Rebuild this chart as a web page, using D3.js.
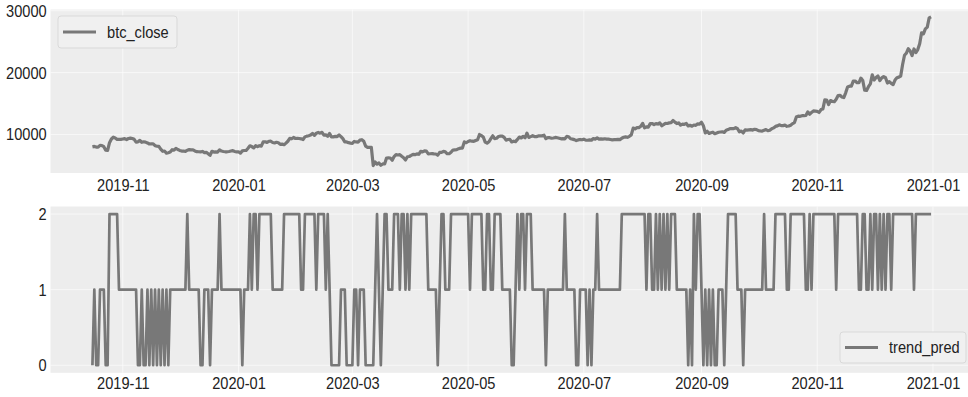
<!DOCTYPE html>
<html>
<head>
<meta charset="utf-8">
<script src="https://cdn.jsdelivr.net/npm/d3@7"></script>
<style>
  html, body { margin: 0; padding: 0; background: #ffffff; }
  svg { display: block; font-family: "Liberation Sans", Arial, sans-serif; }
</style>
</head>
<body>
<svg id="chart" width="968" height="397"></svg>
<script>
// ---- data -------------------------------------------------------------
// Daily series, first observation on this date, one value per day.
const startDate = "2019-10-16";

// BTC daily close (USD)
const btcClose = [
  // 2019-10 (16th onward)
  8000, 8070, 7960, 7950, 8230, 8210, 8020, 7470, 7420, 8670, 9260, 9550, 9430, 9210, 9200, 9200,
  // 2019-11
  9260, 9320, 9180, 9340, 9400, 9340, 9210, 8770, 8810, 9040, 8730, 8820, 8760, 8630, 8460,
  8490, 8500, 8180, 8120, 8080, 7630, 7280, 7320, 6980, 7050, 7150, 7530, 7460, 7760, 7570,
  // 2019-12
  7420, 7320, 7320, 7250, 7450, 7550, 7500, 7520, 7340, 7220, 7200, 7190, 7250, 7070, 7110, 6880,
  6620, 7280, 7150, 7190, 7150, 7510, 7320, 7250, 7200, 7200, 7250, 7320, 7390, 7250, 7190,
  // 2020-01
  7200, 6990, 7340, 7410, 7410, 7770, 8160, 8040, 7820, 8190, 8020, 8180, 8110, 8810, 8820, 8720,
  8900, 8910, 8700, 8630, 8740, 8660, 8390, 8440, 8340, 8600, 8900, 9360, 9300, 9510, 9350,
  // 2020-02
  9390, 9340, 9290, 9180, 9610, 9730, 9800, 9900, 10160, 9860, 10210, 10330, 10210, 10350, 9900,
  9930, 9700, 10160, 9600, 9610, 9690, 9660, 9920, 9650, 9320, 8780, 8790, 8670, 8600,
  // 2020-03
  8560, 8870, 8790, 8760, 9080, 9150, 8900, 8110, 7920, 7910, 7910, 4970, 5560, 5200, 5390, 5010,
  5230, 5240, 6190, 6200, 6190, 5830, 6420, 6730, 6680, 6730, 6470, 6240, 5880, 6390, 6440,
  // 2020-04
  6610, 6790, 6730, 6860, 6790, 7270, 7180, 7340, 7300, 6870, 6880, 6910, 6860, 6840, 6640,
  7120, 7100, 7260, 7190, 6880, 6880, 7120, 7480, 7510, 7540, 7700, 7790, 7800, 8800, 8660,
  // 2020-05
  8860, 8990, 8910, 8890, 9030, 9150, 9990, 9810, 9590, 8760, 8600, 8820, 9320, 9790, 9320, 9380,
  9670, 9730, 9730, 9520, 9080, 9180, 9210, 8790, 8910, 8840, 9200, 9580, 9430, 9700, 9460,
  // 2020-06
  10200, 9520, 9650, 9800, 9660, 9650, 9760, 9790, 9770, 9880, 9320, 9480, 9480, 9390, 9430,
  9520, 9460, 9390, 9290, 9330, 9290, 9680, 9630, 9300, 9250, 9160, 9010, 9120, 9190, 9140,
  // 2020-07
  9230, 9090, 9060, 9130, 9070, 9340, 9250, 9430, 9240, 9290, 9240, 9300, 9240, 9240, 9190, 9130,
  9150, 9170, 9210, 9160, 9390, 9540, 9600, 9540, 9700, 9930, 11030, 10910, 11100, 11110, 11320,
  // 2020-08
  11800, 11070, 11230, 11190, 11750, 11770, 11600, 11750, 11680, 11880, 11410, 11580, 11780, 11770, 11870, 11910,
  12250, 11990, 11760, 11870, 11500, 11660, 11640, 11770, 11370, 11490, 11330, 11530, 11480, 11710, 11680,
  // 2020-09
  11970, 11410, 10250, 10510, 10170, 10280, 10370, 10130, 10240, 10360, 10400, 10440, 10330, 10680, 10790,
  10950, 10950, 10940, 11090, 10920, 10420, 10540, 10240, 10740, 10690, 10730, 10770, 10710, 10840, 10780,
  // 2020-10
  10620, 10570, 10550, 10670, 10790, 10600, 10670, 10920, 11060, 11300, 11380, 11560, 11430, 11430, 11500, 11320,
  11370, 11500, 11750, 11920, 12820, 12970, 12930, 13030, 13030, 13070, 13650, 13270, 13560, 13800, 13780,
  // 2020-11
  13740, 13550, 14030, 14130, 15580, 15570, 14830, 15480, 15330, 15300, 15700, 16280, 16320, 16070, 15960,
  16730, 17680, 17800, 17820, 18620, 18640, 18370, 18360, 19110, 18730, 17150, 17110, 17720, 18180, 19630,
  // 2020-12
  18800, 19200, 19450, 18700, 19150, 19360, 19170, 18320, 18550, 18260, 18060, 18800, 19170, 19270, 19440, 21310,
  22810, 23140, 23870, 23480, 22750, 23820, 23240, 23730, 24660, 26440, 26270, 27080, 27360, 28840, 29000
];

// Predicted trend class (0 = down, 1 = flat, 2 = up)
const trendPred = [
  // 2019-10 (16th onward)
  0,1,0,0,1,1,1,0,0,2,2,2,2,2,1,1,
  // 2019-11
  1,1,1,1,1,1,1,1,0,0,1,0,0,1,0,1,0,1,0,1,0,1,0,1,0,1,1,1,1,1,
  // 2019-12
  1,1,1,1,2,1,1,1,1,1,1,0,0,1,1,1,0,1,1,1,1,2,1,1,1,1,1,1,1,1,1,
  // 2020-01
  1,1,0,1,1,1,2,1,2,2,1,2,2,2,2,2,2,2,1,1,1,1,1,1,2,2,2,2,2,2,2,
  // 2020-02
  2,2,1,1,2,2,2,2,2,2,1,2,2,2,2,1,2,1,0,0,0,0,0,1,1,1,0,0,0,
  // 2020-03
  0,1,1,0,1,1,1,0,0,0,0,0,1,2,1,0,1,2,2,1,1,1,2,2,2,1,2,2,1,2,1,
  // 2020-04
  2,2,2,2,2,2,2,2,2,1,1,1,1,1,0,1,2,2,1,1,1,2,2,2,2,2,2,2,2,2,
  // 2020-05
  2,1,2,2,2,2,2,2,1,1,2,2,1,1,2,2,2,2,1,1,1,1,1,0,0,1,2,1,2,2,1,
  // 2020-06
  2,2,2,1,1,1,1,1,1,1,0,1,1,1,1,1,1,1,1,1,2,1,1,1,1,1,0,0,1,1,
  // 2020-07
  1,1,0,1,0,1,1,2,1,1,1,1,1,1,1,1,1,1,1,1,2,2,2,2,2,2,2,2,2,2,2,
  // 2020-08
  2,2,1,2,2,1,1,2,1,2,1,2,1,2,1,2,2,2,1,1,1,1,1,1,0,1,0,2,1,2,2,
  // 2020-09
  1,0,1,0,1,0,1,0,0,1,1,1,0,1,2,2,2,2,2,1,1,1,0,1,1,1,1,1,1,1,
  // 2020-10
  1,1,1,2,1,1,1,1,1,2,2,2,2,2,2,1,1,2,2,2,2,2,2,2,2,1,1,2,1,2,2,
  // 2020-11
  2,2,2,2,2,2,2,2,2,2,1,2,2,2,2,2,2,2,2,2,2,2,1,1,2,2,1,1,2,1,
  // 2020-12
  2,2,1,2,1,2,1,2,2,1,2,2,2,2,2,2,2,2,2,2,2,1,2,2,2,2,2,2,2,2,2
];

// Axis ticks
const btcTicks = [10000, 20000, 30000];
const trendTicks = [0, 1, 2];
const monthTicks = ["2019-11-01", "2020-01-01", "2020-03-01", "2020-05-01",
                    "2020-07-01", "2020-09-01", "2020-11-01", "2021-01-01"];

// Legend labels
const topLabel = "btc_close";
const bottomLabel = "trend_pred";

// ---- layout -----------------------------------------------------------
const plotLeft = 50.5, plotRight = 973;
const topPanel = { y0: 9.5, y1: 173 };
const botPanel = { y0: 206.5, y1: 372.8 };
const bgColor = "#ededed";
const lineColor = "#787878";
const textColor = "#222222";
const fontSize = 17;
const squeeze = 0.86;   // horizontal text compression

const parse = d3.utcParse("%Y-%m-%d");
const t0 = parse(startDate);
const dates = btcClose.map((_, i) => d3.utcDay.offset(t0, i));
const btcData = btcClose.map((v, i) => ({ date: dates[i], value: v }));
const trendData = trendPred.map((v, i) => ({ date: dates[i], value: v }));

// x domain padded by 5% of the data span on either side
const tFirst = dates[0], tLast = dates[dates.length - 1];
const tPad = (tLast - tFirst) * 0.05;
const x = d3.scaleUtc()
  .domain([new Date(+tFirst - tPad), new Date(+tLast + tPad)])
  .range([plotLeft, plotRight]);

function paddedDomain(vals) {
  const [lo, hi] = d3.extent(vals);
  const p = (hi - lo) * 0.05;
  return [lo - p, hi + p];
}

const yTop = d3.scaleLinear().domain(paddedDomain(btcClose)).range([topPanel.y1, topPanel.y0]);
const yBot = d3.scaleLinear().domain(paddedDomain(trendPred)).range([botPanel.y1, botPanel.y0]);

const svg = d3.select("#chart");
const defs = svg.append("defs");

function drawPanel(panel, y, data, yTicks, id, xLabelPad, lineWidth) {
  const g = svg.append("g");

  // plotting area background
  g.append("rect")
    .attr("x", plotLeft).attr("y", panel.y0)
    .attr("width", plotRight - plotLeft).attr("height", panel.y1 - panel.y0)
    .attr("fill", bgColor);

  // grid lines
  const grid = g.append("g").attr("stroke", "#ffffff").attr("stroke-width", 1).attr("stroke-opacity", 0.6);
  grid.selectAll("line.h").data(yTicks).join("line")
    .attr("x1", plotLeft).attr("x2", plotRight)
    .attr("y1", d => y(d)).attr("y2", d => y(d));
  grid.selectAll("line.v").data(monthTicks.map(parse)).join("line")
    .attr("x1", d => x(d)).attr("x2", d => x(d))
    .attr("y1", panel.y0).attr("y2", panel.y1);

  // clip for the series
  defs.append("clipPath").attr("id", id)
    .append("rect")
    .attr("x", plotLeft).attr("y", panel.y0)
    .attr("width", plotRight - plotLeft).attr("height", panel.y1 - panel.y0);

  g.append("path")
    .datum(data)
    .attr("clip-path", `url(#${id})`)
    .attr("fill", "none")
    .attr("stroke", lineColor)
    .attr("stroke-width", lineWidth)
    .attr("stroke-linejoin", "round")
    .attr("d", d3.line().x(d => x(d.date)).y(d => y(d.value)));

  // x axis
  const xAxis = d3.axisBottom(x)
    .tickValues(monthTicks.map(parse))
    .tickFormat(d3.utcFormat("%Y-%m"))
    .tickSize(0)
    .tickPadding(xLabelPad);
  const gx = g.append("g").attr("transform", `translate(0,${panel.y1})`).call(xAxis);
  gx.select(".domain").remove();
  gx.selectAll("text")
    .attr("fill", textColor)
    .style("font-size", fontSize + "px")
    .style("font-family", '"Liberation Sans", Arial, sans-serif')
    .attr("transform", `scale(${squeeze},1)`);

  // y axis
  const yAxis = d3.axisLeft(y)
    .tickValues(yTicks)
    .tickFormat(d3.format("d"))
    .tickSize(0)
    .tickPadding(4.5);
  const gy = g.append("g").attr("transform", `translate(${plotLeft},0)`).call(yAxis);
  gy.select(".domain").remove();
  gy.selectAll("text")
    .attr("fill", textColor)
    .style("font-size", fontSize + "px")
    .style("font-family", '"Liberation Sans", Arial, sans-serif')
    .attr("transform", `scale(${squeeze},1)`);
}

drawPanel(topPanel, yTop, btcData, btcTicks, "clipTop", 5.5, 3.2);
drawPanel(botPanel, yBot, trendData, trendTicks, "clipBot", 4, 2.7);

// legends
function legend(box, label) {
  const g = svg.append("g");
  g.append("rect")
    .attr("x", box.x).attr("y", box.y)
    .attr("width", box.w).attr("height", box.h)
    .attr("rx", 3).attr("ry", 3)
    .attr("fill", "#efefef").attr("fill-opacity", 0.9)
    .attr("stroke", "#d9d9d9").attr("stroke-width", 1);
  const cy = box.y + box.h / 2;
  g.append("line")
    .attr("x1", box.x + 5).attr("x2", box.x + 38)
    .attr("y1", cy).attr("y2", cy)
    .attr("stroke", lineColor).attr("stroke-width", 3);
  g.append("g")
    .attr("transform", `translate(${box.x + 49},${cy})`)
    .append("text")
    .attr("dy", "0.35em")
    .attr("fill", textColor)
    .style("font-size", fontSize + "px")
    .attr("transform", `scale(${squeeze},1)`)
    .text(label);
}

legend({ x: 58, y: 16, w: 119, h: 32 }, topLabel);
legend({ x: 840, y: 332, w: 126, h: 31 }, bottomLabel);
</script>
</body>
</html>
